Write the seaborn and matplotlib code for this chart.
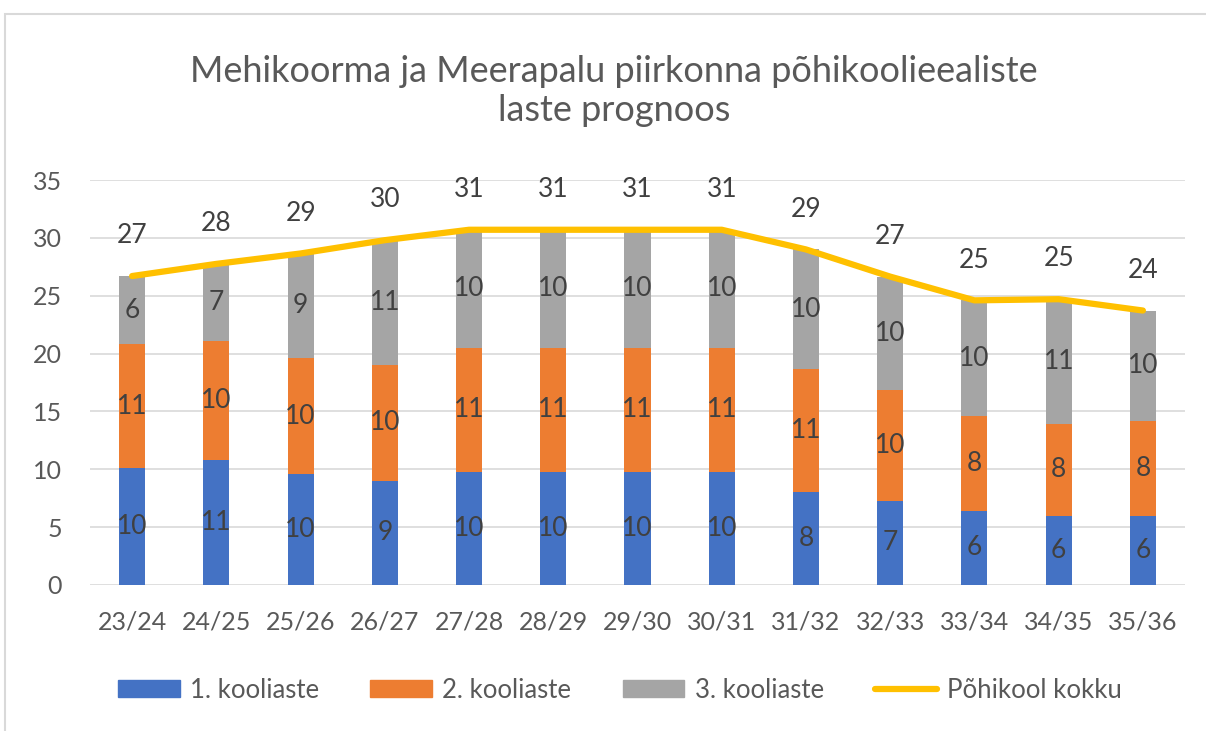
import matplotlib
matplotlib.use("Agg")
import matplotlib.pyplot as plt
import numpy as np
import seaborn as sns
from matplotlib.lines import Line2D
from matplotlib.patches import Patch, Rectangle

years = ["23/24", "24/25", "25/26", "26/27", "27/28", "28/29", "29/30",
         "30/31", "31/32", "32/33", "33/34", "34/35", "35/36"]
stage1 = [10.1, 10.8, 9.6, 9.0, 9.8, 9.8, 9.8, 9.8, 8.0, 7.3, 6.4, 6.0, 6.0]
stage2 = [10.7, 10.25, 10.0, 10.0, 10.7, 10.7, 10.7, 10.7, 10.7, 9.55, 8.2, 7.9, 8.2]
stage3 = [5.9, 6.7, 9.05, 10.8, 10.2, 10.2, 10.2, 10.2, 10.3, 9.8, 10.0, 10.8, 9.52]
series_names = ["1. kooliaste", "2. kooliaste", "3. kooliaste", "Põhikool kokku"]
title = "Mehikoorma ja Meerapalu piirkonna põhikoolieealiste\nlaste prognoos"

BLUE, ORANGE, GRAY, YELLOW = "#4472C4", "#ED7D31", "#A5A5A5", "#FFC000"
TXT, LBL, GRID = "#595959", "#404040", "#D9D9D9"

sns.set_style("white")
plt.rcParams["font.family"] = ["Lato", "DejaVu Sans"]

s1 = np.array(stage1)
s2 = np.array(stage2)
s3 = np.array(stage3)
total = s1 + s2 + s3

fig = plt.figure(figsize=(12.06, 7.31), dpi=100)
fig.patches.append(Rectangle((5 / 1206, -0.01), 1.0, 1 - 14 / 731 + 0.01,
                             transform=fig.transFigure, fill=False,
                             edgecolor="#D9D9D9", linewidth=1.5))
ax = fig.add_axes([90 / 1206, 1 - 585 / 731, (1185 - 90) / 1206, (585 - 180) / 731])

bw = 0.31
# stacked look: draw cumulative heights back to front
sns.barplot(x=years, y=total, color=GRAY, width=bw, saturation=1, linewidth=0, ax=ax, order=years)
sns.barplot(x=years, y=s1 + s2, color=ORANGE, width=bw, saturation=1, linewidth=0, ax=ax, order=years)
sns.barplot(x=years, y=s1, color=BLUE, width=bw, saturation=1, linewidth=0, ax=ax, order=years)
pos = np.arange(len(years))
sns.lineplot(x=pos, y=total, color=YELLOW, linewidth=4.5, ax=ax, solid_capstyle="round")

# segment labels
for i in pos:
    bottoms = [0, s1[i], s1[i] + s2[i]]
    for b, v in zip(bottoms, [s1[i], s2[i], s3[i]]):
        ax.text(i, b + v / 2, f"{v:.0f}", ha="center", va="center", fontsize=19, color=LBL)
    ax.annotate(f"{total[i]:.0f}", (i, total[i]), xytext=(0, 29), textcoords="offset points",
                ha="center", va="center", fontsize=19, color=LBL)

ax.set_xlim(-0.5, len(years) - 0.5)
ax.set_ylim(0, 35)
ax.set_yticks(range(0, 36, 5))
ax.yaxis.grid(True, color=GRID, linewidth=1.2)
ax.set_axisbelow(True)
for sp in ax.spines.values():
    sp.set_visible(False)
ax.tick_params(axis="both", length=0, labelsize=18, labelcolor=TXT)
ax.tick_params(axis="y", pad=20)
ax.tick_params(axis="x", pad=18)
ax.set_xlabel("")
ax.set_ylabel("")

fig.text(614 / 1206, 1 - 91 / 731, title, ha="center", va="center", fontsize=26,
         color=TXT, linespacing=1.25)

handles = [Patch(color=BLUE), Patch(color=ORANGE), Patch(color=GRAY),
           Line2D([], [], color=YELLOW, linewidth=4.5, solid_capstyle="round")]
fig.legend(handles, series_names, loc="center", bbox_to_anchor=(620 / 1206, 1 - 690 / 731),
           ncol=4, frameon=False, fontsize=18.5, labelcolor=TXT, handlelength=2.4,
           handleheight=0.6, handletextpad=0.4, columnspacing=2.0)

fig.savefig("out.png", dpi=100, facecolor="white")
